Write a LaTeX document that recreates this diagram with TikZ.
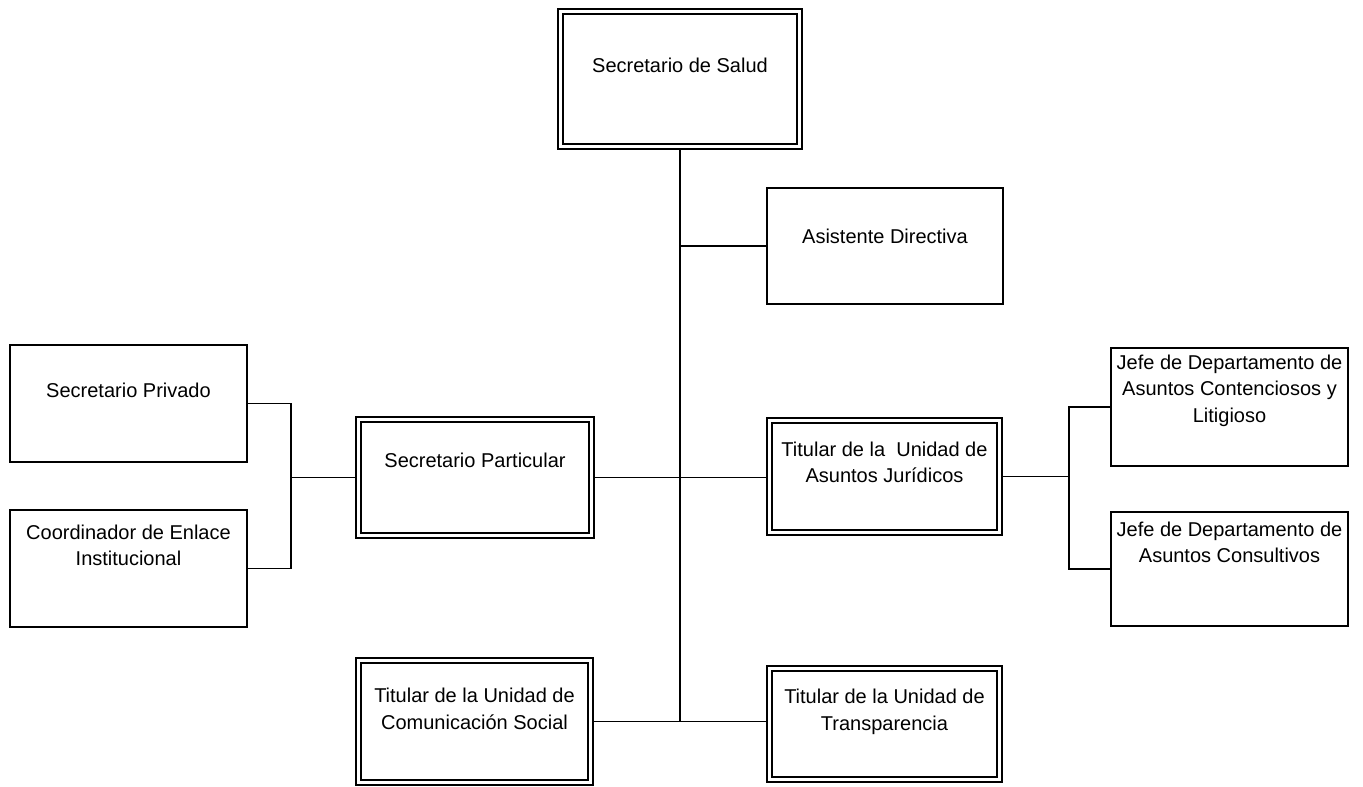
\documentclass[tikz,border=0pt]{standalone}
\usepackage{fontspec}
\setmainfont{Liberation Sans}
\usepackage{tikz}
\usetikzlibrary{positioning,backgrounds}
\newcommand{\boxtext}[2]{\parbox[c][110pt][t]{228pt}{\centering\vspace*{#1pt}#2}}
\begin{document}
\begin{tikzpicture}[x=1pt,y=-1pt,
        unit/.style={draw,line width=1.7pt,fill=white,inner sep=0pt,font=\fontsize{20}{26.5}\selectfont},
        head/.style={unit,double,double distance=3pt},
        link/.style={line width=1.7pt}]
        \useasboundingbox (0,0) rectangle (1363,787);
        \node (salud) at (680,79) [head,minimum width=239pt,minimum height=135pt] {\boxtext{34}{Secretario de Salud}};
        \node (asist) at (885,246) [unit,minimum width=236pt,minimum height=116pt] {\boxtext{38}{Asistente Directiva}};
        \node (priv) at (128.5,403.5) [unit,minimum width=237pt,minimum height=117pt] {\boxtext{34.5}{Secretario Privado}};
        \node (coord) at (128.5,568.5) [unit,minimum width=237pt,minimum height=117pt] {\boxtext{11.5}{Coordinador de Enlace\\Institucional}};
        \node (partic) at (475,477.5) [head,minimum width=233pt,minimum height=116pt] {\boxtext{30.5}{Secretario Particular}};
        \node (jurid) at (884.5,476.5) [head,minimum width=230pt,minimum height=112pt] {\boxtext{20.5}{Titular de la\ \ Unidad de\\Asuntos Jurídicos}};
        \node (cont) at (1229.5,407) [unit,minimum width=237pt,minimum height=118pt] {\boxtext{3}{Jefe de Departamento de\\Asuntos Contenciosos y\\Litigioso}};
        \node (consult) at (1229.5,569) [unit,minimum width=237pt,minimum height=114pt] {\boxtext{8}{Jefe de Departamento de\\Asuntos Consultivos}};
        \node (comun) at (474.5,721.5) [head,minimum width=232pt,minimum height=122pt] {\boxtext{21.5}{Titular de la Unidad de\\Comunicación Social}};
        \node (transp) at (884.5,724) [head,minimum width=230pt,minimum height=111pt] {\boxtext{20}{Titular de la Unidad de\\Transparencia}};
        \coordinate (lbr) at (291,477.5);
        \coordinate (rbr) at (1069,476.5);
        \begin{scope}[on background layer]
        \draw[link] (salud.south) -- (salud.south |- comun.east);
        \draw[link] (salud.south |- asist.west) -- (asist.west);
        \draw[link] (partic.east) -- (partic.east -| jurid.west);
        \draw[link] (comun.east) -- (comun.east -| transp.west);
        \draw[link] (priv.east) -| (lbr) |- (coord.east);
        \draw[link] (lbr) -- (partic.west);
        \draw[link] (jurid.east) -- (rbr);
        \draw[link] (cont.west) -| (rbr) |- (consult.west);
        \end{scope}
    \end{tikzpicture}
\end{document}
